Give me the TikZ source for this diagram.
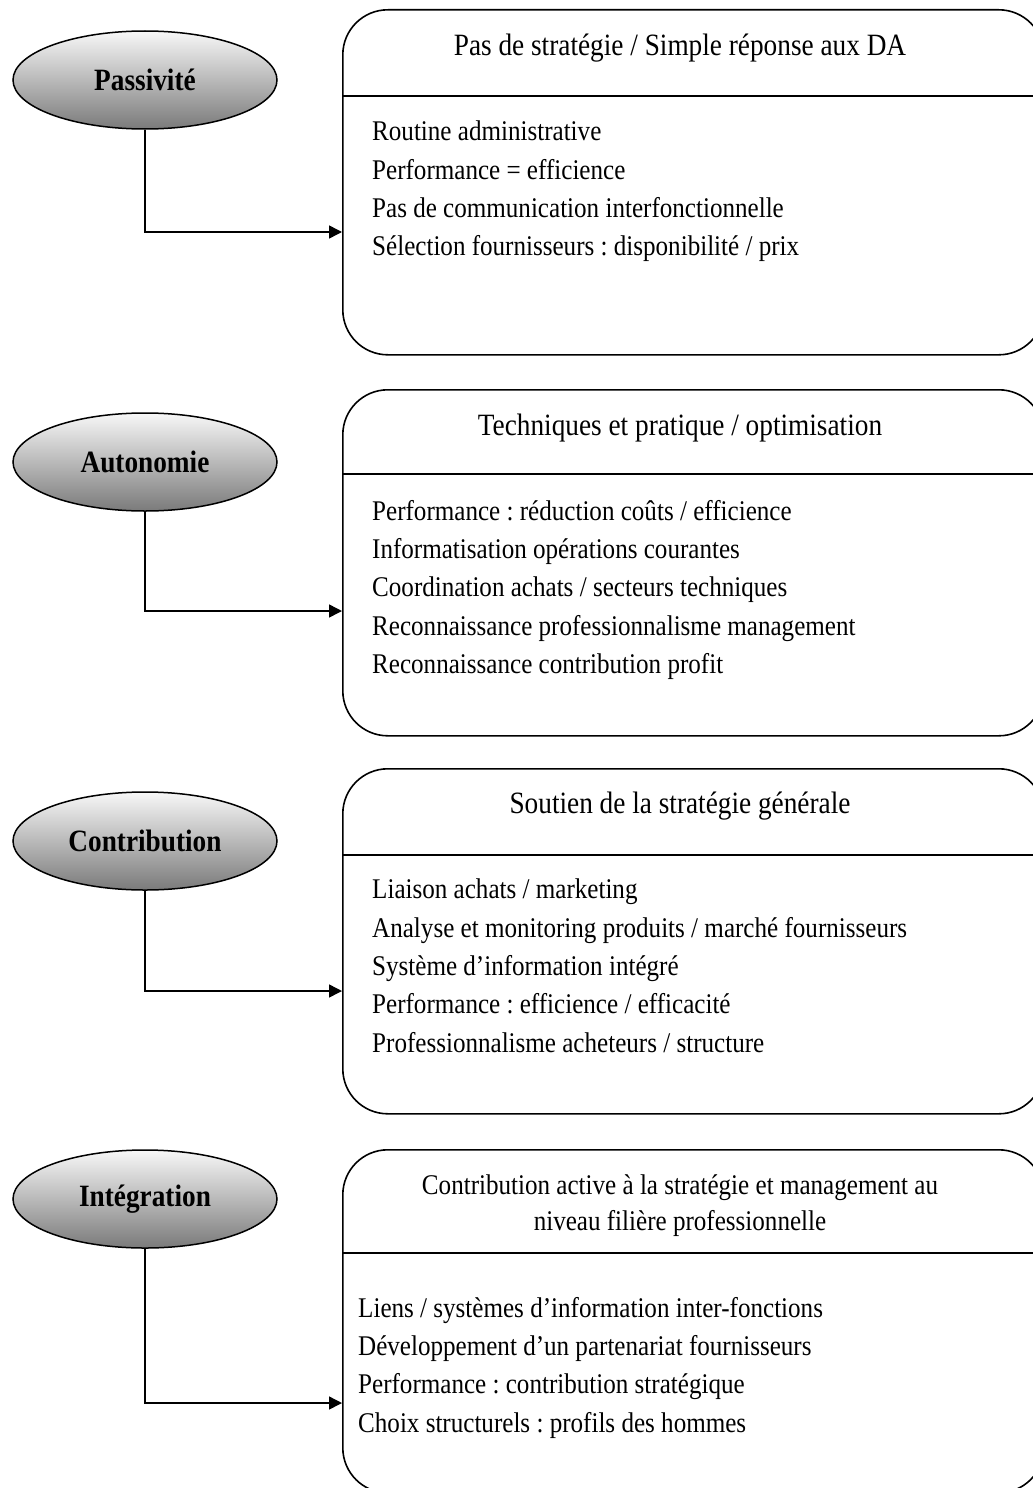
\documentclass[tikz,border=0pt]{standalone}
\usepackage{fontspec}
\setmainfont{Liberation Serif}[FakeStretch=0.88]
\frenchspacing
\usetikzlibrary{shapes.geometric,arrows.meta}

\tikzset{
  phase/.style={ellipse,draw,line width=1.5pt,minimum width=264pt,minimum height=98pt,inner sep=0pt,
    top color=black!3,bottom color=black!52,font=\bfseries\fontsize{31}{36}\selectfont},
  panel/.style={draw,line width=1.6pt,rounded corners=45pt,minimum width=701pt,anchor=north west,inner sep=0pt},
  titre/.style={font=\fontsize{31}{36}\selectfont,align=center,inner sep=0pt},
  liste/.style={font=\fontsize{28.5}{38.3}\selectfont,align=left,inner sep=0pt,anchor=north west},
  fleche/.style={line width=1.5pt,-{Triangle[length=13pt,width=13pt]}}
}

\begin{document}
\begin{tikzpicture}[x=1pt,y=-1pt]
                \useasboundingbox (0,0) rectangle (1033,1488);
                \clip (0,0) rectangle (1033,1488);
                % phases
                \node[phase] (p1) at (145,80) {Passivité};
                \node[phase] (p2) at (145,462) {Autonomie};
                \node[phase] (p3) at (145,841) {Contribution};
                \node[phase] (p4) at (145,1199) {Intégration};
                % panneaux
                \node[panel,minimum height=345pt] (b1) at (342,9) {};
                \node[panel,minimum height=346pt] (b2) at (342,389) {};
                \node[panel,minimum height=345pt] (b3) at (342,768) {};
                \node[panel,minimum height=343pt] (b4) at (342,1149) {};
                \draw[line width=1.6pt] (342,96) -- (1043,96);
                \draw[line width=1.6pt] (342,474) -- (1043,474);
                \draw[line width=1.6pt] (342,855) -- (1043,855);
                \draw[line width=1.6pt] (342,1253) -- (1043,1253);
                % titres
                \node[titre,anchor=base] (t1) at (680,55.5) {Pas de stratégie / Simple réponse aux DA};
                \node[titre,anchor=base] (t2) at (680,435.5) {Techniques et pratique / optimisation};
                \node[titre,anchor=base] (t3) at (680,813.5) {Soutien de la stratégie générale};
                \node[titre,anchor=north,font=\fontsize{28.5}{36}\selectfont] (t4) at (680,1174) {Contribution active à la stratégie et management au\\niveau filière professionnelle};
                % contenus
                \node[liste] (l1) at (372,121) {Routine administrative\\Performance = efficience\\Pas de communication interfonctionnelle\\Sélection fournisseurs : disponibilité / prix};
                \node[liste] (l2) at (372,500) {Performance : réduction coûts / efficience\\Informatisation opérations courantes\\Coordination achats / secteurs techniques\\Reconnaissance professionnalisme management\\Reconnaissance contribution profit};
                \node[liste] (l3) at (372,879) {Liaison achats / marketing\\Analyse et monitoring produits / marché fournisseurs\\Système d’information intégré\\Performance : efficience / efficacité\\Professionnalisme acheteurs / structure};
                \node[liste] (l4) at (358,1297) {Liens / systèmes d’information inter-fonctions\\Développement d’un partenariat fournisseurs\\Performance : contribution stratégique\\Choix structurels : profils des hommes};
                % liaisons
                \coordinate (e1) at (342,232);
                \coordinate (e2) at (342,611);
                \coordinate (e3) at (342,991);
                \coordinate (e4) at (342,1403);
                \draw[fleche] (p1.south) |- (e1);
                \draw[fleche] (p2.south) |- (e2);
                \draw[fleche] (p3.south) |- (e3);
                \draw[fleche] (p4.south) |- (e4);
            \end{tikzpicture}
\end{document}
